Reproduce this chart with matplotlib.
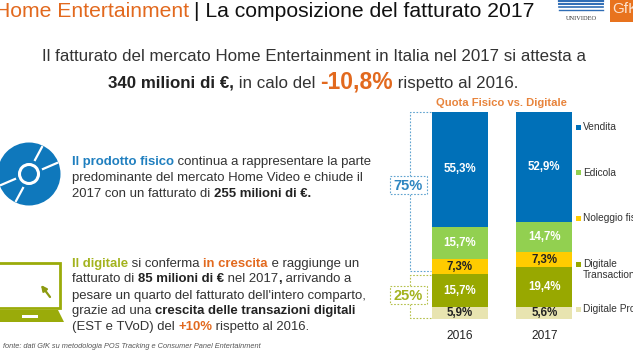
import matplotlib
matplotlib.use('Agg')
import matplotlib.pyplot as plt
from matplotlib.patches import Circle, Rectangle, Polygon

plt.rcParams['font.family'] = ['Liberation Sans', 'DejaVu Sans']

years = ['2016', '2017']
segments = ['Digitale Promo', 'Digitale Transactional', 'Noleggio fisico', 'Edicola', 'Vendita']
values_2016 = [5.9, 15.7, 7.3, 15.7, 55.3]
values_2017 = [5.6, 19.4, 7.3, 14.7, 52.9]
colors = ['#E8E4B0', '#98A800', '#FFCC00', '#92D050', '#0070B8']
label_colors = ['#222222', 'white', '#222222', 'white', 'white']
legend_y = [309, 264, 218, 172.5, 127]

ORANGE = '#E2691E'
BLUE = '#1F7FBF'
OLIVE = '#A3B31E'
DARK = '#333333'

fig = plt.figure(figsize=(6.33, 3.5), dpi=100)

# overlay in pixel coordinates for all the slide furniture
bg = fig.add_axes([0, 0, 1, 1])
bg.set_xlim(0, 633)
bg.set_ylim(350, 0)
bg.axis('off')


def runs(x, y, parts, size, center=False):
    # one line of text made of differently styled pieces
    r = fig.canvas.get_renderer()
    items = []
    total = 0
    for p in parts:
        txt = p[0]
        col = p[1] if len(p) > 1 else DARK
        wt = p[2] if len(p) > 2 else 'normal'
        sz = p[3] if len(p) > 3 else size
        t = bg.text(x, y, txt.replace(' ', '\u00a0'), color=col, fontweight=wt, fontsize=sz, va='baseline')
        w = t.get_window_extent(r).width
        items.append((t, w))
        total += w
    cx = x - total / 2 if center else x
    for t, w in items:
        t.set_x(cx)
        cx += w


# title
runs(-5, 17, [('Home Entertainment', ORANGE)], 15.2)
runs(194, 17, [('| La composizione del fatturato 2017', '#111111')], 15.2)

# logos
for yy, lw in zip([1, 4, 7, 10], [1.6, 1.4, 1.2, 1.0]):
    bg.plot([559, 603], [yy, yy], color='#2F6DB5', lw=lw)
bg.text(581, 19, 'UNIVIDEO', family='Liberation Serif', fontsize=4.6, color='#333333', ha='center', va='center')
bg.add_patch(Rectangle((610, 0), 23, 22, color='#E8731E', lw=0))
bg.text(612, 9, 'GfK', color='#FCE3CF', fontsize=11, va='center', clip_on=True)

# subtitle
runs(313.5, 61, [('Il fatturato del mercato Home Entertainment in Italia nel 2017 si attesta a',)], 12.2, center=True)
runs(313.5, 88, [('340 milioni di €,', '#222222', 'bold'), (' in calo del ',), ('-10,8%', ORANGE, 'bold', 16.5),
                 (' rispetto al 2016.',)], 12.2, center=True)

# cd icon
bg.add_patch(Circle((29, 174), 31.5, color='#0F78BC', lw=0))
bg.add_patch(Circle((29, 174), 9.5, fc='none', ec='white', lw=2.2))
for x0, y0, x1, y1 in [(35, 160, 42, 147), (23, 188, 16, 201), (43, 169, 57, 163), (15, 179, 1, 185)]:
    bg.plot([x0, x1], [y0, y1], color='white', lw=1.6)

# laptop icon
bg.add_patch(Rectangle((-3, 263), 63, 45, fc='white', ec='#9AAB0A', lw=2.0))
bg.add_patch(Polygon([(-3, 310), (58, 310), (64, 322), (-3, 322)], color='#9AAB0A', lw=0))
bg.add_patch(Rectangle((22, 315), 16, 2.5, color='white', lw=0))
bg.annotate('', xy=(41, 285), xytext=(50, 297),
            arrowprops=dict(arrowstyle='-|>', color='#8C9A10', lw=1.6, mutation_scale=8, shrinkA=0, shrinkB=0))

# left paragraphs
runs(72, 164.5, [('Il prodotto fisico', BLUE, 'bold'), (' continua a rappresentare la parte',)], 9.45)
runs(72, 180.5, [('predominante del mercato Home Video e chiude il',)], 9.45)
runs(72, 197, [('2017 con un fatturato di ',), ('255 milioni di €.', '#222222', 'bold')], 9.45)

runs(72, 267, [('Il digitale', OLIVE, 'bold'), (' si conferma ',), ('in crescita', ORANGE, 'bold'), (' e raggiunge un',)], 9.45)
runs(72, 282.5, [('fatturato di ',), ('85 milioni di €', '#222222', 'bold'), (' nel 2017',), (',', '#222222', 'bold'),
                 (' arrivando a',)], 9.45)
runs(72, 298.5, [("pesare un quarto del fatturato dell'intero comparto,",)], 9.45)
runs(72, 314, [('grazie ad una ',), ('crescita delle transazioni digitali', '#222222', 'bold')], 9.45)
runs(72, 330, [('(EST e TVoD) del ',), ('+10%', ORANGE, 'bold'), (' rispetto al 2016.',)], 9.45)

bg.text(3, 348, 'fonte: dati GfK su metodologia POS Tracking e Consumer Panel Entertainment',
        fontsize=5.3, style='italic', color='#555555', va='baseline')

# stacked bars
ax = fig.add_axes([417.5 / 633, 1 - 319 / 350, 169 / 633, 207 / 350])
ax.patch.set_alpha(0)
xs = [0, 1]
for x, vals in zip(xs, [values_2016, values_2017]):
    bottom = 0
    for v, c, lc in zip(vals, colors, label_colors):
        ax.bar(x, v, 0.665, bottom=bottom, color=c)
        ax.text(x, bottom + v / 2, f'{v:.1f}%'.replace('.', ','), color=lc, fontsize=8.3,
                fontweight='bold', ha='center', va='center')
        bottom += v
ax.set_xlim(-0.5, 1.5)
ax.set_ylim(0, 99.9)
ax.set_xticks(xs)
ax.set_xticklabels(years, fontsize=8.6, color='#222222')
ax.tick_params(length=0, pad=8)
ax.set_yticks([])
for s in ax.spines.values():
    s.set_visible(False)

bg.text(501, 103, 'Quota Fisico vs. Digitale', color='#E8843C', fontsize=8.1, fontweight='bold',
        ha='center', va='center')

# legend
for name, ly, c in zip(segments, legend_y, colors):
    bg.add_patch(Rectangle((575.5, ly - 2.5), 5, 5, color=c, lw=0))
    if name == 'Digitale Transactional':
        bg.text(583, ly, 'Digitale', fontsize=7.3, color=DARK, va='center')
        bg.text(583, ly + 11, 'Transactional', fontsize=7.3, color=DARK, va='center')
    else:
        bg.text(583, ly, name, fontsize=7.3, color=DARK, va='center')

# dotted brackets for the 75 / 25 split
DOT_B = '#5FA3CF'
DOT_G = '#B5C04A'
bg.plot([431, 409.5, 409.5, 431], [112, 112, 271, 271], color=DOT_B, lw=0.8, ls=(0, (1.5, 1.5)))
bg.add_patch(Rectangle((390, 176), 37, 18, fc='white', ec=DOT_B, lw=0.8, ls=(0, (1.5, 1.5)), zorder=3))
bg.text(408.5, 185.5, '75%', color='#2E86C1', fontsize=10.5, fontweight='bold', ha='center', va='center', zorder=4)
bg.plot([431, 409.5, 409.5, 431], [275, 275, 317.5, 317.5], color=DOT_G, lw=0.8, ls=(0, (1.5, 1.5)))
bg.add_patch(Rectangle((390, 286), 37, 18, fc='white', ec=DOT_G, lw=0.8, ls=(0, (1.5, 1.5)), zorder=3))
bg.text(408.5, 295.5, '25%', color=OLIVE, fontsize=10.5, fontweight='bold', ha='center', va='center', zorder=4)

fig.savefig('out.png', dpi=100)
